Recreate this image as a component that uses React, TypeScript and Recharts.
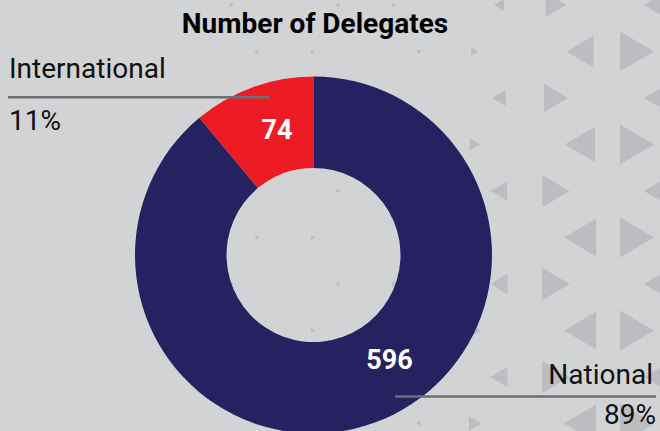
import React from "react";
import { PieChart, Pie, Cell } from "recharts";

// Chart data
const CATEGORIES = ["International", "National"];
const DELEGATES = [74, 596];
const SLICE_COLORS = ["#ed1c24", "#262262"];
const CHART_TITLE = "Number of Delegates";

// where along each slice the white value sits (0 = start, 1 = end)
const VALUE_LABEL_POS = [0.41, 0.55];

const WIDTH = 660;
const HEIGHT = 431;
const BG = "#d2d3d5";
const TRI = "#bcbdc0";
const FONT = "Roboto, 'Liberation Sans', Arial, sans-serif";
const RAD = Math.PI / 180;

const total = DELEGATES.reduce((a, b) => a + b, 0);
const pieData = CATEGORIES.map((name, i) => ({ name, value: DELEGATES[i] }));
const pct = (v: number) => `${Math.round((v / total) * 100)}%`;

// decorative background triangles (hex grid, growing to the right)
const Triangles: React.FC = () => {
  const shapes: React.ReactNode[] = [];
  for (let r = 0; r < 10; r++) {
    const y = 5 + r * 46.5;
    const x0 = r % 2 === 0 ? 175 : 256;
    for (let k = 0; k < 4; k++) {
      [0, 57].forEach((dx, j) => {
        const x = x0 + k * 162 + dx;
        if (x < 200 || x > 700) return;
        const s = Math.min(20, Math.max(2.5, (x - 445) * 0.11 + Math.min(y, 200) * 0.02));
        const w = s * 1.7;
        const pts =
          j === 0
            ? `${x - w / 2},${y} ${x + w / 2},${y - s} ${x + w / 2},${y + s}`
            : `${x + w / 2},${y} ${x - w / 2},${y - s} ${x - w / 2},${y + s}`;
        shapes.push(<polygon key={`${r}-${k}-${j}`} points={pts} fill={TRI} />);
      });
    }
  }
  return (
    <svg width={WIDTH} height={HEIGHT} style={{ position: "absolute", left: 0, top: 0 }}>
      {shapes}
    </svg>
  );
};

const renderValueLabel = (props: any) => {
  const { cx, cy, innerRadius, outerRadius, startAngle, endAngle, midAngle, value, index } = props;
  const angle =
    startAngle !== undefined && endAngle !== undefined
      ? startAngle + (endAngle - startAngle) * VALUE_LABEL_POS[index]
      : midAngle;
  const r = (innerRadius + outerRadius) / 2 - 3;
  const x = cx + r * Math.cos(-angle * RAD);
  const y = cy + r * Math.sin(-angle * RAD);
  return (
    <text
      x={x}
      y={y}
      fill="#ffffff"
      textAnchor="middle"
      dominantBaseline="central"
      fontFamily={FONT}
      fontWeight={700}
      fontSize={27}
    >
      {value}
    </text>
  );
};

const Callouts: React.FC = () => (
  <svg
    width={WIDTH}
    height={HEIGHT}
    style={{ position: "absolute", left: 0, top: 0, pointerEvents: "none" }}
    fontFamily={FONT}
  >
    <text x={315} y={33} textAnchor="middle" fontWeight={700} fontSize={28} fill="#000">
      {CHART_TITLE}
    </text>

    <text x={9} y={77.5} fontSize={28} fontWeight={400} fill="#111">
      {CATEGORIES[0]}
    </text>
    <line x1={8} x2={269} y1={97.3} y2={97.3} stroke="#6d6e71" strokeWidth={2.4} />
    <text x={9} y={130} fontSize={28} fontWeight={400} fill="#111">
      {pct(DELEGATES[0])}
    </text>

    <text x={653} y={384} textAnchor="end" fontSize={28} fontWeight={400} fill="#111">
      {CATEGORIES[1]}
    </text>
    <line x1={395} x2={656} y1={396.5} y2={396.5} stroke="#6d6e71" strokeWidth={2.4} />
    <text x={656} y={424} textAnchor="end" fontSize={28} fontWeight={400} fill="#111">
      {pct(DELEGATES[1])}
    </text>
  </svg>
);

export default function App() {
  return (
    <div
      style={{
        position: "absolute",
        left: 0,
        top: 0,
        width: WIDTH,
        height: HEIGHT,
        background: BG,
        overflow: "hidden",
      }}
    >
      <Triangles />
      <div style={{ position: "absolute", left: 0, top: 0 }}>
        <PieChart width={WIDTH} height={HEIGHT} margin={{ top: 0, right: 0, bottom: 0, left: 0 }}>
          <Pie
            data={pieData}
            dataKey="value"
            nameKey="name"
            cx={313.5}
            cy={255}
            innerRadius={87}
            outerRadius={178.5}
            startAngle={90}
            endAngle={450}
            stroke="none"
            label={renderValueLabel}
            labelLine={false}
            isAnimationActive={false}
          >
            {pieData.map((entry, i) => (
              <Cell key={`cell-${entry.name}`} fill={SLICE_COLORS[i]} />
            ))}
          </Pie>
        </PieChart>
      </div>
      <Callouts />
    </div>
  );
}
